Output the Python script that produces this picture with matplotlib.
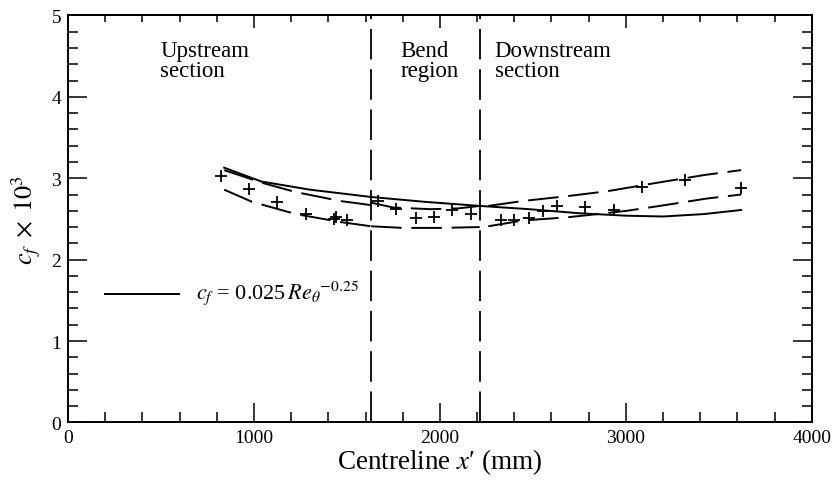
import numpy as np
import matplotlib
matplotlib.use("Agg")
import matplotlib.pyplot as plt
from matplotlib.ticker import MultipleLocator

plt.rcParams['font.family'] = ['Liberation Serif', 'DejaVu Serif']
plt.rcParams['mathtext.fontset'] = 'stix'
plt.rcParams['lines.scale_dashes'] = False

# Measured data (+ symbols)
meas_x = [825, 973, 1123, 1278, 1428, 1440, 1503, 1668, 1765, 1872, 1968, 2064,
          2166, 2326, 2401, 2481, 2556, 2631, 2781, 2936, 3086, 3316, 3620]
meas_y = [3.03, 2.87, 2.71, 2.56, 2.50, 2.52, 2.49, 2.72, 2.62, 2.51, 2.52, 2.61,
          2.56, 2.49, 2.49, 2.51, 2.60, 2.66, 2.65, 2.61, 2.89, 2.98, 2.88]

# Correlation curve (solid)
solid_x = [840, 1040, 1300, 1630, 1920, 2214, 2480, 2750, 3000, 3200, 3420, 3620]
solid_y = [3.13, 2.96, 2.86, 2.77, 2.71, 2.66, 2.62, 2.57, 2.54, 2.53, 2.56, 2.61]

# Upper dashed curve, by section
up_up_x = [840, 1050, 1225, 1465, 1630]
up_up_y = [3.10, 2.94, 2.83, 2.72, 2.67]
up_bend_x = [1630, 1750, 1950, 2100, 2214]
up_bend_y = [2.70, 2.64, 2.62, 2.63, 2.66]
up_down_x = [2260, 2444, 2684, 2898, 3182, 3422, 3620]
up_down_y = [2.66, 2.72, 2.78, 2.84, 2.95, 3.04, 3.10]

# Lower dashed curve, by section
lo_up_x = [840, 990, 1225, 1471, 1630]
lo_up_y = [2.86, 2.71, 2.56, 2.46, 2.41]
lo_bend_x = [1630, 1800, 2000, 2214]
lo_bend_y = [2.41, 2.39, 2.39, 2.40]
lo_down_x = [2260, 2444, 2684, 2850, 3005, 3182, 3433, 3620]
lo_down_y = [2.41, 2.48, 2.52, 2.56, 2.60, 2.66, 2.75, 2.80]

bend_start = 1630
bend_end = 2215

legend_line_x = [198, 599]
legend_line_y = [1.58, 1.58]

fig = plt.figure(figsize=(8.33, 4.85), dpi=100)
ax = fig.add_axes([0.0816, 0.127, 0.893, 0.839])

lw = 1.4
ax.plot(solid_x, solid_y, color='black', lw=lw)
dash = (0, (22, 7))
for xs, ys in [(up_up_x, up_up_y), (up_bend_x, up_bend_y), (up_down_x, up_down_y),
               (lo_up_x, lo_up_y), (lo_bend_x, lo_bend_y), (lo_down_x, lo_down_y)]:
    ax.plot(xs, ys, color='black', lw=lw, linestyle=dash)

ax.plot(meas_x, meas_y, linestyle='none', marker='+', color='black',
        markersize=9, markeredgewidth=1.3)

for xv in (bend_start, bend_end):
    ax.axvline(xv, color='black', lw=1.3, linestyle=(0, (22, 7)))

ax.plot(legend_line_x, legend_line_y, color='black', lw=lw)
ax.text(690, 1.60, r"$c_f$ = 0.025$\,Re_\theta{}^{-0.25}$", fontsize=16,
        va='center', ha='left')

ax.text(497, 4.70, "Upstream\nsection", fontsize=16.5, va='top', ha='left', linespacing=0.95)
ax.text(1786, 4.70, "Bend\nregion", fontsize=16.5, va='top', ha='left', linespacing=0.95)
ax.text(2294, 4.70, "Downstream\nsection", fontsize=16.5, va='top', ha='left', linespacing=0.95)

ax.set_xlim(0, 4000)
ax.set_ylim(0, 5)
ax.xaxis.set_major_locator(MultipleLocator(1000))
ax.xaxis.set_minor_locator(MultipleLocator(200))
ax.yaxis.set_major_locator(MultipleLocator(1))
ax.yaxis.set_minor_locator(MultipleLocator(0.2))

ax.tick_params(which='major', direction='in', length=13.5, width=1.1,
               bottom=True, left=True, right=True, top=False, labelsize=14, pad=5)
ax.tick_params(which='minor', direction='in', length=7, width=1.1,
               bottom=True, left=True, right=True, top=False)

sec = ax.secondary_xaxis('top')
sec.xaxis.set_major_locator(MultipleLocator(1000))
sec.xaxis.set_minor_locator(MultipleLocator(200))
sec.tick_params(which='major', direction='in', length=9, width=1.1, labeltop=False)
sec.tick_params(which='minor', direction='in', length=5, width=1.1)
sec.spines['top'].set_linewidth(1.4)

for s in ax.spines.values():
    s.set_linewidth(1.4)

ax.set_xlabel("Centreline $x$\u2032 (mm)", fontsize=19.5, labelpad=0)
ax.set_ylabel(r"$c_f \;\times\; 10^3$", fontsize=19, labelpad=6)

fig.savefig("out.png", dpi=100)
